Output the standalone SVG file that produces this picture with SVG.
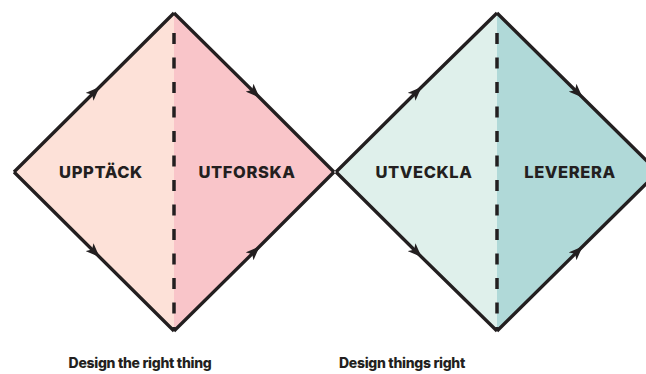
<svg xmlns="http://www.w3.org/2000/svg" width="646" height="374" viewBox="0 0 646 374">
<style>
.lbl{font-family:Inter,"Liberation Sans",sans-serif;font-weight:800;font-size:16.5px;letter-spacing:0.6px;fill:#231f20;text-anchor:middle}
.cap{font-family:Inter,"Liberation Sans",sans-serif;font-weight:800;font-size:14px;letter-spacing:-0.3px;fill:#231f20;text-anchor:middle}
.edge{fill:none;stroke:#231f20;stroke-width:3.3;stroke-linejoin:miter;marker-mid:url(#arr)}
.div{fill:none;stroke:#231f20;stroke-width:3.5;stroke-dasharray:11 13.5}
</style>
<defs>
<marker id="arr" markerUnits="userSpaceOnUse" viewBox="0 0 14 11" refX="9" refY="5.5" markerWidth="14" markerHeight="11" orient="auto">
<path d="M0,0 L14,5.5 L0,11 L3.5,5.5 Z" fill="#231f20"/>
</marker>
</defs>
<rect width="646" height="374" fill="#ffffff"/>
<g id="upptack">
<polygon points="14,172 174,13 174,331" fill="#fde1d8"/>
<text class="lbl" x="101" y="178">UPPTÄCK</text>
</g>
<g id="utforska">
<polygon points="174,13 334,172 174,331" fill="#f9c5c9"/>
<text class="lbl" x="247" y="178">UTFORSKA</text>
</g>
<g id="utveckla">
<polygon points="336,172 497,13 497,331" fill="#dff0eb"/>
<text class="lbl" x="424" y="178">UTVECKLA</text>
</g>
<g id="leverera">
<polygon points="497,13 658,172 497,331" fill="#b0d9d8"/>
<text class="lbl" x="570" y="178">LEVERERA</text>
</g>
<g id="connectors">
<path class="edge" d="M14,172 L96,90.5 L174,13"/>
<path class="edge" d="M14,172 L96,253.5 L174,331"/>
<path class="edge" d="M174,13 L256,94 L334,172"/>
<path class="edge" d="M174,331 L256,250 L334,172"/>
<path class="edge" d="M336,172 L418,90.5 L497,13"/>
<path class="edge" d="M336,172 L418,253.5 L497,331"/>
<path class="edge" d="M497,13 L579,94 L658,172"/>
<path class="edge" d="M497,331 L579,250 L658,172"/>
<line class="div" x1="174" y1="33" x2="174" y2="331"/>
<line class="div" x1="497" y1="33" x2="497" y2="331"/>
</g>
<g id="captions">
<text class="cap" x="140" y="368">Design the right thing</text>
<text class="cap" x="402" y="368">Design things right</text>
</g>
</svg>
